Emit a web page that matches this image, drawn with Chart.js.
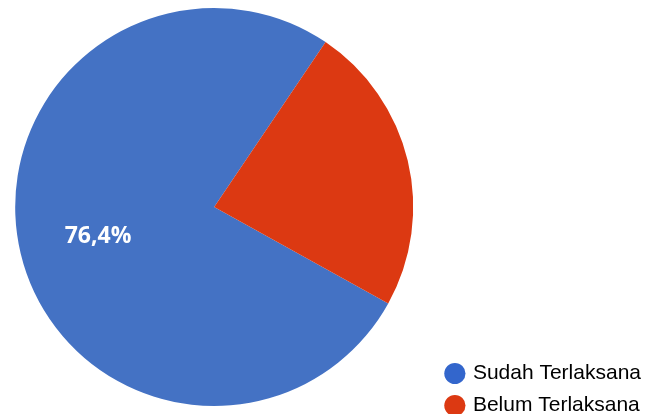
<!DOCTYPE html>
<html>
<head>
<meta charset="utf-8">
<script src="https://cdn.jsdelivr.net/npm/chart.js@4/dist/chart.umd.min.js"></script>
<style>
  html, body { margin: 0; padding: 0; background: #fff; overflow: hidden; }
  #wrap { width: 647px; height: 414px; position: relative; overflow: hidden; }
  #inner { position: absolute; left: -8px; top: 0; width: 655px; height: 414px; }
</style>
</head>
<body>
<div id="wrap"><div id="inner"><canvas id="pie-canvas"></canvas></div></div>
<script>
var categories = ['Sudah Terlaksana', 'Belum Terlaksana'];
var values = [76.4, 23.6];
var sliceColors = ['#4472c4', '#dc3912'];
var legendColors = ['#3366cc', '#dc3912'];
var showLabel = [true, false];

// draws the percent text inside the slices
var sliceText = {
  id: 'sliceText',
  afterDatasetsDraw: function(chart) {
    var ctx = chart.ctx;
    var arcs = chart.getDatasetMeta(0).data;
    ctx.save();
    ctx.textAlign = 'center';
    ctx.textBaseline = 'middle';
    ctx.font = 'bold 23px "Open Sans", Arial, sans-serif';
    ctx.fillStyle = '#ffffff';
    for (var i = 0; i < arcs.length; i++) {
      if (!showLabel[i]) continue;
      var a = arcs[i];
      var mid = (a.startAngle + a.endAngle) / 2;
      var r = a.outerRadius * 0.6;
      var txt = values[i].toFixed(1).replace('.', ',') + '%';
      ctx.fillText(txt, a.x + Math.cos(mid) * r, a.y + Math.sin(mid) * r + 2);
    }
    ctx.restore();
  }
};

var ctx = document.getElementById('pie-canvas').getContext('2d');
var chartObj = new Chart(ctx, {
  type: 'pie',
  data: {
    labels: categories,
    datasets: [{
      data: values,
      backgroundColor: sliceColors,
      borderWidth: 0,
      radius: 199
    }]
  },
  options: {
    responsive: true,
    maintainAspectRatio: false,
    animation: false,
    rotation: 119,
    layout: { padding: { top: -13, bottom: -13, left: 0, right: -4 } },
    plugins: {
      tooltip: { enabled: false },
      legend: {
        position: 'right',
        align: 'end',
        labels: {
          usePointStyle: true,
          pointStyle: 'circle',
          boxWidth: 15,
          boxHeight: 15,
          padding: 11,
          color: '#555555',
          font: { family: 'Arial, "Liberation Sans", sans-serif', size: 21 },
          generateLabels: function(chart) {
            return categories.map(function(c, i) {
              return {
                text: c,
                fillStyle: legendColors[i],
                strokeStyle: legendColors[i],
                lineWidth: 0,
                pointStyle: 'circle',
                hidden: false,
                index: i
              };
            });
          }
        }
      }
    }
  },
  plugins: [sliceText]
});
</script>
</body>
</html>
